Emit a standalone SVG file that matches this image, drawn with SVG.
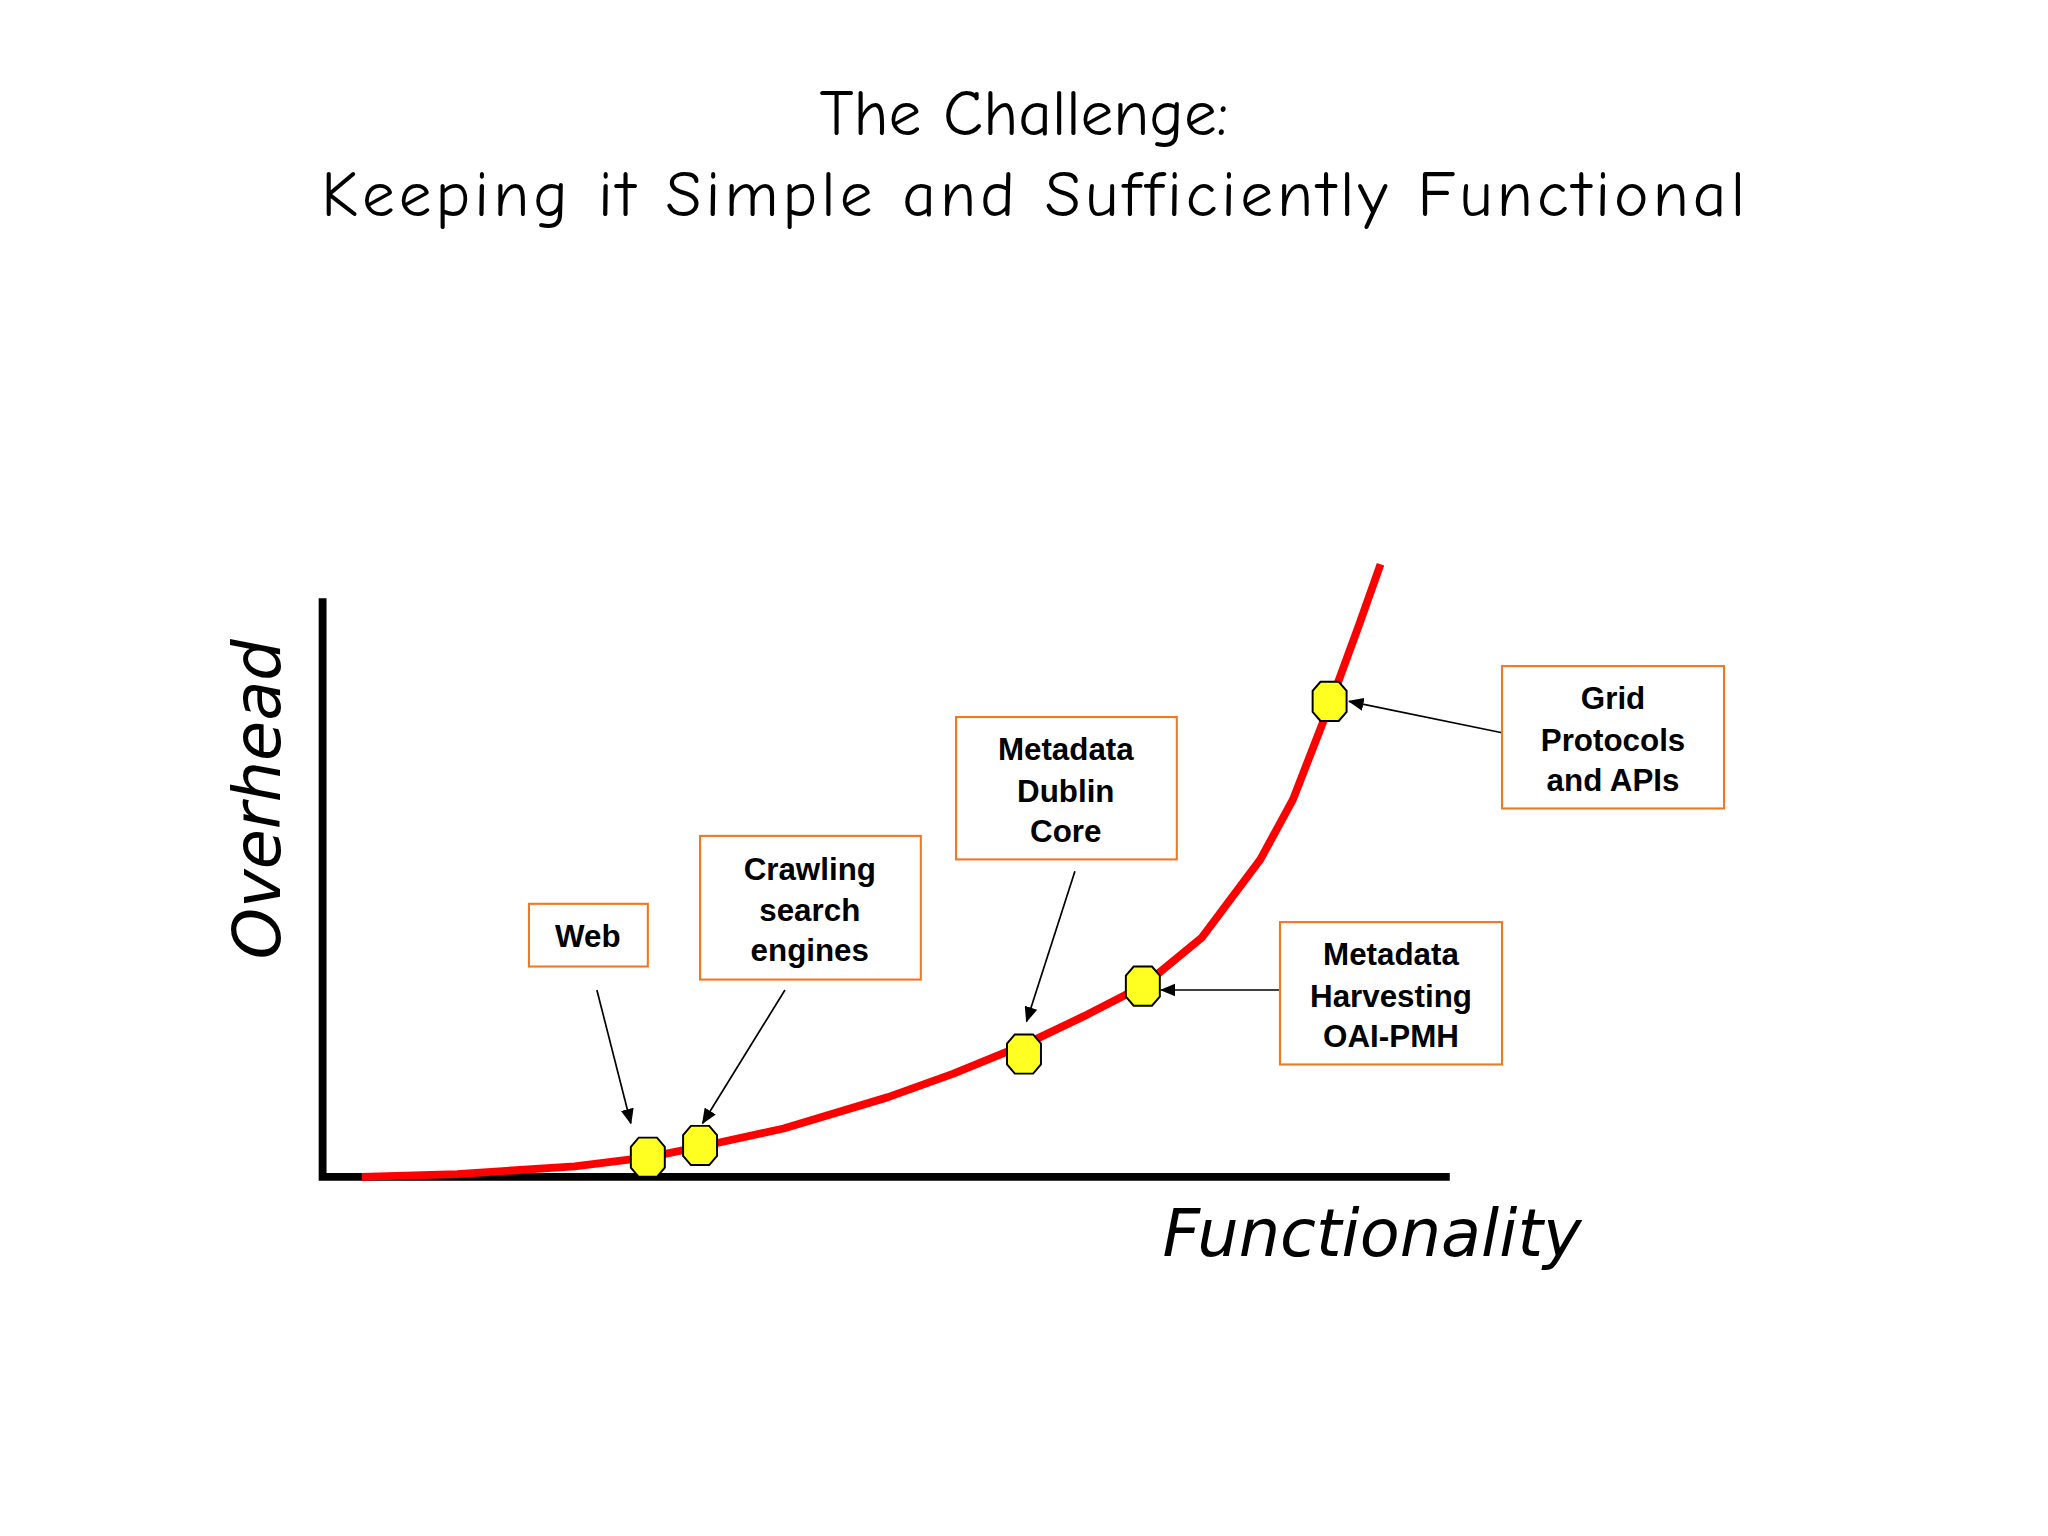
<svg xmlns="http://www.w3.org/2000/svg" width="2048" height="1536" viewBox="0 0 2048 1536">
<style>
.t{font-family:"Comic Neue","DejaVu Sans",sans-serif;font-size:50px;fill:#000;text-anchor:middle}
.box{fill:#fff;stroke:#F07820;stroke-width:1.6}
.lb{font-family:"Liberation Sans",Arial,sans-serif;font-weight:bold;font-size:24px;text-anchor:middle;fill:#000}
.oct{fill:#FFFF22;stroke:#000;stroke-width:1.5}
.ar{stroke:#000;stroke-width:1.3;fill:none;marker-end:url(#ah)}
.ax{font-family:"DejaVu Sans",sans-serif;font-style:italic;font-size:50px;fill:#000}
</style>
<defs><marker id="ah" markerWidth="12" markerHeight="10" refX="11" refY="5" orient="auto" markerUnits="userSpaceOnUse"><path d="M0,0 L12,5 L0,10 Z" fill="#000"/></marker>
<path id="o" d="M-7,-15 L7,-15 L13,-8 L13,8 L7,15 L-7,15 L-13,8 L-13,-8 Z"/></defs>
<rect width="2048" height="1536" fill="#fff"/>
<g transform="scale(1.3061)">
<text class="t" x="784" y="103">The Challenge:</text>
<text class="t" x="791" y="165" textLength="1090">Keeping it Simple and Sufficiently Functional</text>
<g id="axes"><path d="M247,458 V903 M244,901 H1110" stroke="#000" stroke-width="6" fill="none"/>
<text class="ax" transform="translate(214,612) rotate(-90)" text-anchor="middle">Overhead</text>
<text class="ax" x="890" y="962">Functionality</text></g>
<path id="curve" d="M277,901 L350,899 L440,893 L497,886 L536,878 L600,864 L680,840 L730,822 L784,800 L830,778 L875,755 L920,718 L965,658 L990,612 L1018,540 L1040,480 L1057,432" stroke="#F00" stroke-width="6" fill="none" stroke-linejoin="round"/>
<g id="markers">
<use href="#o" class="oct" x="496" y="886"/><use href="#o" class="oct" x="536" y="877"/><use href="#o" class="oct" x="784" y="807"/><use href="#o" class="oct" x="875" y="755"/><use href="#o" class="oct" x="1018" y="537"/></g>
<g id="connectors">
<path class="ar" d="M457,758 L483,860"/><path class="ar" d="M601,758 L538,860"/><path class="ar" d="M823,667 L786,782"/><path class="ar" d="M1150,561 L1033,537"/><path class="ar" d="M980,758 L889,758"/></g>
<g id="web"><rect class="box" x="405" y="692" width="91" height="48"/><text class="lb" x="450" y="725">Web</text></g>
<g id="crawl"><rect class="box" x="536" y="640" width="169" height="110"/><text class="lb" x="620" y="674">Crawling</text><text class="lb" x="620" y="705">search</text><text class="lb" x="620" y="736">engines</text></g>
<g id="dublin"><rect class="box" x="732" y="549" width="169" height="109"/><text class="lb" x="816" y="582">Metadata</text><text class="lb" x="816" y="614">Dublin</text><text class="lb" x="816" y="645">Core</text></g>
<g id="grid"><rect class="box" x="1150" y="510" width="170" height="109"/><text class="lb" x="1235" y="543">Grid</text><text class="lb" x="1235" y="575">Protocols</text><text class="lb" x="1235" y="606">and APIs</text></g>
<g id="oai"><rect class="box" x="980" y="706" width="170" height="109"/><text class="lb" x="1065" y="739">Metadata</text><text class="lb" x="1065" y="771">Harvesting</text><text class="lb" x="1065" y="802">OAI-PMH</text></g>
</g>
</svg>
